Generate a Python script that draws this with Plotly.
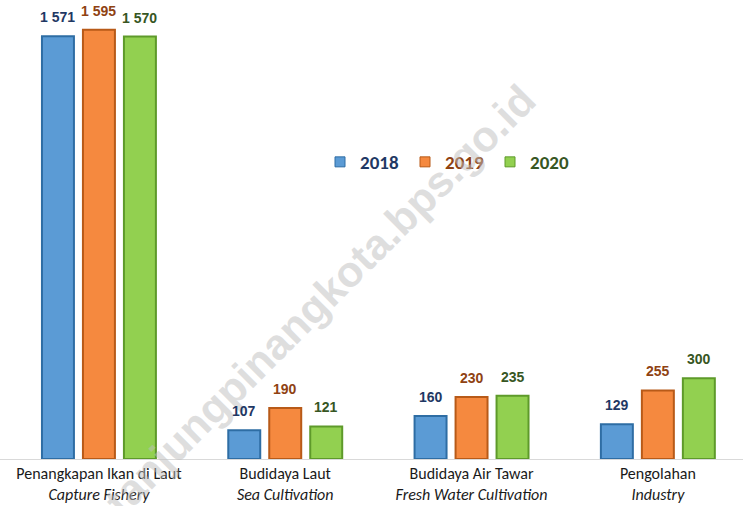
import plotly.graph_objects as go

categories = ["Penangkapan Ikan di Laut<br><i>Capture Fishery</i>",
              "Budidaya Laut<br><i>Sea Cultivation</i>",
              "Budidaya Air Tawar<br><i>Fresh Water Cultivation</i>",
              "Pengolahan<br><i>Industry</i>"]
years = ["2018", "2019", "2020"]
v2018 = [1571, 107, 160, 129]
v2019 = [1595, 190, 230, 255]
v2020 = [1570, 121, 235, 300]
labels2018 = ["1 571", "107", "160", "129"]
labels2019 = ["1 595", "190", "230", "255"]
labels2020 = ["1 570", "121", "235", "300"]

series = [
    (years[0], v2018, labels2018, "#5B9BD5", "#2E6DA4", "#1F3864"),
    (years[1], v2019, labels2019, "#F5893F", "#B85A18", "#8F4212"),
    (years[2], v2020, labels2020, "#92D050", "#5E9A2A", "#375623"),
]

W, H = 743, 506
XRANGE = [-0.531, 3.457]
BARGAP = 0.34
cat_px = W / (XRANGE[1] - XRANGE[0])
slot_px = cat_px * (1 - BARGAP) / len(series)

fig = go.Figure()
fig.add_annotation(
    text="<b>tanjungpinangkota.bps.go.id</b>", x=320 / W, y=1 - 300 / 459,
    xref="paper", yref="paper", xanchor="center", yanchor="middle",
    showarrow=False, textangle=-45,
    font=dict(family="Liberation Sans", size=43, color="rgba(190,190,190,0.5)"),
)
for i, (name, vals, labs, fill, edge, tcol) in enumerate(series):
    fig.add_trace(go.Bar(
        x=categories, y=vals,
        marker=dict(color=fill, line=dict(color=edge, width=2)),
        showlegend=False, hoverinfo="skip",
    ))
    fig.add_trace(go.Scatter(
        x=[None], y=[None], mode="markers",
        marker=dict(symbol="square", size=10, color=fill, line=dict(color=edge, width=1)),
        name=f"<b><span style='color:{tcol}'>{name}</span></b>",
    ))
    for cat, v, lab in zip(categories, vals, labs):
        fig.add_annotation(
            x=cat, y=v, text=f"<b>{lab}</b>", showarrow=False,
            xanchor="center", yanchor="bottom", yshift=9,
            xshift=(i - (len(series) - 1) / 2) * slot_px,
            font=dict(family="Liberation Sans", size=14, color=tcol),
        )

fig.update_layout(
    width=W, height=H,
    margin=dict(l=0, r=0, t=0, b=47),
    plot_bgcolor="white", paper_bgcolor="white",
    barmode="group", bargap=BARGAP, bargroupgap=0.22,
    showlegend=True,
    legend=dict(orientation="h", x=320 / W, y=1 - 162 / 459, xanchor="left", yanchor="middle",
                font=dict(family="Carlito, Lato, Open Sans", size=19),
                entrywidth=40, itemwidth=30, bgcolor="rgba(0,0,0,0)"),
    xaxis=dict(range=XRANGE, showline=True, linecolor="#D9D9D9", linewidth=1,
               ticks="", tickfont=dict(family="Carlito, Lato, Open Sans", size=16, color="#1a1a1a")),
    yaxis=dict(range=[0, 1706], visible=False, showgrid=False),
    font=dict(family="Open Sans"),
)

fig.write_html("out.html", config={"displayModeBar": False},
               post_script="document.body.style.margin='0';")
